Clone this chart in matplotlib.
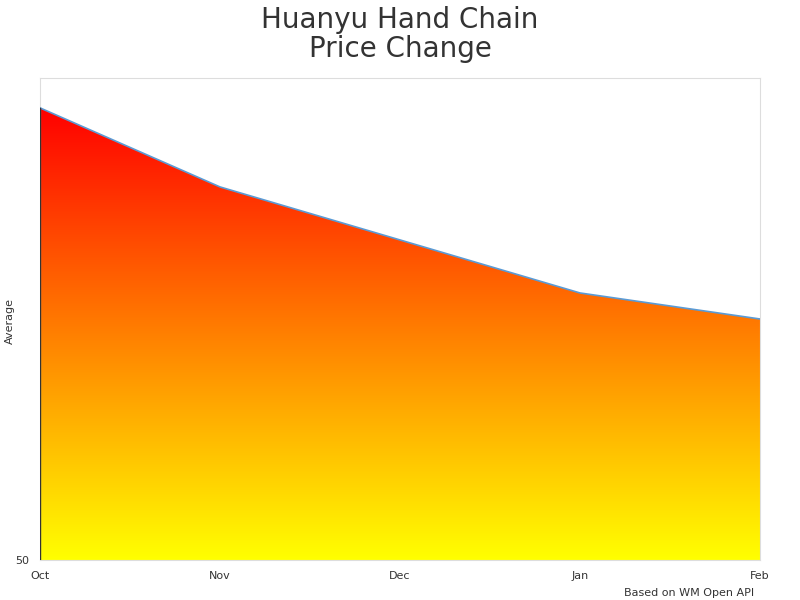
import matplotlib
matplotlib.use("Agg")
import matplotlib.pyplot as plt
import numpy as np
from matplotlib.colors import LinearSegmentedColormap

months = ["Oct", "Nov", "Dec", "Jan", "Feb"]
values = [96.9, 88.7, 83.2, 77.7, 75.0]
y_ticks = [50]

fig = plt.figure(figsize=(8, 6), dpi=100)
ax = fig.add_axes([0.05, 0.0667, 0.90, 0.8033])
x = np.arange(len(months))
ymin, ymax = 50, 100
ax.set_xlim(0, len(months) - 1)
ax.set_ylim(ymin, ymax)

cmap = LinearSegmentedColormap.from_list("ry", ["#ffff00", "#ff0000"])
top = max(values)
grad = np.linspace(0, 1, 256).reshape(-1, 1)
im = ax.imshow(grad, cmap=cmap, aspect="auto", origin="lower",
               extent=[0, len(months) - 1, ymin, top], zorder=1)
poly = ax.fill_between(x, ymin, values, color="none", zorder=0)
path = poly.get_paths()[0]
im.set_clip_path(path, transform=ax.transData)
ax.plot(x, values, color="#5b9bd5", lw=1.2, zorder=3)
ax.plot([0, 0], [ymin, values[0]], color="#333333", lw=1, zorder=3)

ax.set_xticks(x)
ax.set_xticklabels(months, fontsize=8, color="#333333")
ax.set_yticks(y_ticks)
ax.set_yticklabels([str(v) for v in y_ticks], fontsize=8, color="#333333")
ax.tick_params(length=0, pad=8)
for s in ax.spines.values():
    s.set_color("#dddddd")
fig.text(0.012, 0.465, "Average", fontsize=8, color="#333333",
         rotation=90, ha="center", va="center")
fig.suptitle("Huanyu Hand Chain\nPrice Change", fontsize=20, color="#333333",
             y=0.99, linespacing=1.05)
fig.text(0.943, 0.003, "Based on WM Open API", fontsize=8, color="#333333",
         ha="right", va="bottom")
fig.savefig("out.png", dpi=100)
